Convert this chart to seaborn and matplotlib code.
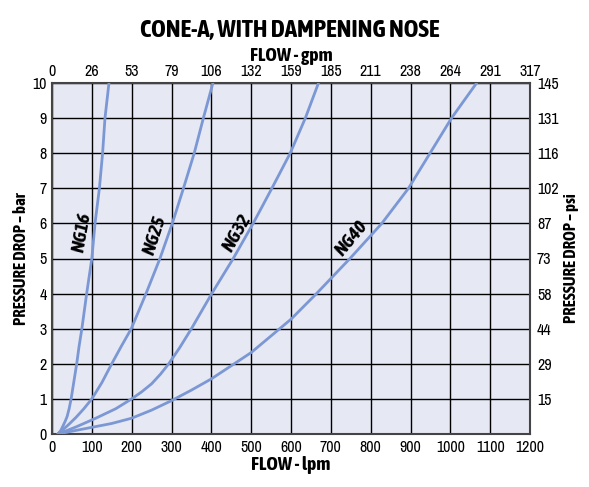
import matplotlib
matplotlib.use("Agg")
import matplotlib.pyplot as plt
from matplotlib import font_manager
import seaborn as sns
import pandas as pd

# ---- data ----
ng16_lpm = [15, 22, 28, 33, 38, 43, 48, 55, 62, 68, 75, 87, 100, 108, 119, 127, 133, 143]
ng16_bar = [0, 0.1, 0.24, 0.36, 0.5, 0.72, 1, 1.5, 2, 2.5, 3, 4, 5, 6, 7, 8, 9, 10]

ng25_lpm = [15, 40, 60, 80, 100, 125, 149, 174, 199, 236, 271, 302, 330, 357, 380, 404]
ng25_bar = [0, 0.25, 0.47, 0.72, 1, 1.46, 1.98, 2.5, 3, 4, 5, 6, 7, 8, 9, 10]

ng32_lpm = [15, 60, 110, 160, 200, 225, 250, 272, 293, 320, 350, 401, 455, 505, 552, 598, 636, 669]
ng32_bar = [0, 0.2, 0.45, 0.72, 1, 1.2, 1.43, 1.7, 2, 2.45, 3, 4, 5, 6, 7, 8, 9, 10]

ng40_lpm = [15, 50, 100, 150, 200, 250, 300, 350, 400, 500, 600, 664, 748, 828, 895, 949, 1003, 1066]
ng40_bar = [0, 0.08, 0.19, 0.3, 0.45, 0.68, 0.95, 1.25, 1.57, 2.32, 3.27, 4, 5, 6, 7, 8, 9, 10]

lpm_ticks = [0, 100, 200, 300, 400, 500, 600, 700, 800, 900, 1000, 1100, 1200]
gpm_labels = ["0", "26", "53", "79", "106", "132", "159", "185", "211", "238", "264", "291", "317"]
bar_ticks = [0, 1, 2, 3, 4, 5, 6, 7, 8, 9, 10]
psi_ticks = [1, 2, 3, 4, 5, 6, 7, 8, 9, 10]
psi_labels = ["15", "29", "44", "58", "73", "87", "102", "116", "131", "145"]

series_names = ["NG16", "NG25", "NG32", "NG40"]
label_pos = {"NG16": (75, 5.75, 80), "NG25": (259, 5.67, 72),
             "NG32": (464, 5.73, 60), "NG40": (753, 5.58, 50)}

frames = []
for name, xs, ys in zip(series_names,
                        [ng16_lpm, ng25_lpm, ng32_lpm, ng40_lpm],
                        [ng16_bar, ng25_bar, ng32_bar, ng40_bar]):
    frames.append(pd.DataFrame({"lpm": xs, "bar": ys, "size": name}))
df = pd.concat(frames, ignore_index=True)

# ---- style ----
sns.set_style("white")


def _w(v):
    if isinstance(v, (int, float)):
        return v
    return {"bold": 700, "heavy": 800, "black": 900, "semibold": 600,
            "demibold": 600, "extra bold": 800, "normal": 400, "regular": 400}.get(str(v).lower(), 400)


reg_cands, bold_cands, boldit_cands = [], [], []
for f in font_manager.fontManager.ttflist:
    nm = f.name
    low = nm.lower()
    if "mono" in low or "serif" in low or "cjk" in low:
        continue
    st = str(f.stretch).lower()
    is_cond = ("narrow" in low or "condensed" in low or st in ("condensed", "semi-condensed"))
    if "extra" in low or "ultra" in low or st in ("extra-condensed", "ultra-condensed"):
        is_cond = False
    if not is_cond:
        continue
    w = _w(f.weight)
    style = str(f.style).lower()
    if style == "normal":
        if 600 <= w <= 800:
            bold_cands.append(f)
        elif 350 <= w < 600:
            reg_cands.append(f)
    elif 600 <= w <= 800:
        boldit_cands.append(f)

bold_cands.sort(key=lambda f: (abs(_w(f.weight) - 700), f.name))
reg_cands.sort(key=lambda f: (abs(_w(f.weight) - 400), f.name))
if bold_cands:
    same = [f for f in boldit_cands if f.name == bold_cands[0].name]
    boldit_cands = same or boldit_cands
boldit_cands.sort(key=lambda f: (abs(_w(f.weight) - 700), f.name))

bold_font = font_manager.FontProperties(fname=bold_cands[0].fname) if bold_cands else None
reg_font = font_manager.FontProperties(fname=reg_cands[0].fname) if reg_cands else None
boldit_font = font_manager.FontProperties(fname=boldit_cands[0].fname) if boldit_cands else None

plt.rcParams["font.family"] = ["DejaVu Sans"]
plt.rcParams["text.color"] = "black"


def _mk(base, size, **fallback):
    if base is not None:
        p = base.copy()
        p.set_size(size)
        return p
    return font_manager.FontProperties(family="DejaVu Sans", size=size * 0.8, **fallback)


def fp_bold(size):
    return _mk(bold_font, size, weight="bold")


def fp_reg(size):
    return _mk(reg_font, size)


def fp_boldit(size):
    if boldit_font is not None:
        return _mk(boldit_font, size)
    if bold_font is not None:
        return _mk(bold_font, size)
    return font_manager.FontProperties(family="DejaVu Sans", size=size * 0.8,
                                       weight="bold", style="italic")


line_color = "#7B98D4"
bg_color = "#E6E8F4"
edge_color = "#444444"

fig = plt.figure(figsize=(5.89, 4.87), dpi=100)
ax = fig.add_axes([52 / 589, 1 - 434 / 487, 478 / 589, 351 / 487])
ax.set_facecolor(bg_color)

sns.lineplot(data=df, x="lpm", y="bar", hue="size",
             palette={n: line_color for n in series_names},
             estimator=None, sort=False, legend=False, linewidth=2.0, ax=ax, zorder=3)

ax.set_xlim(0, 1200)
ax.set_ylim(0, 10)
ax.set_xticks(lpm_ticks)
ax.set_yticks(bar_ticks)
ax.set_xticklabels([str(v) for v in lpm_ticks], fontproperties=fp_reg(11.5))
ax.set_yticklabels([str(v) for v in bar_ticks], fontproperties=fp_reg(11.5))
ax.grid(True, color="black", linewidth=1.0, zorder=1)
ax.set_axisbelow(True)
ax.tick_params(length=0, pad=4, colors="black")
for s in ax.spines.values():
    s.set_color(edge_color)
    s.set_linewidth(1.5)
ax.set_xlabel("FLOW - lpm", fontproperties=fp_bold(14), labelpad=1, color="black")
ax.set_ylabel("PRESSURE DROP – bar", fontproperties=fp_bold(12), labelpad=2, color="black")

for name in series_names:
    x, y, rot = label_pos[name]
    ax.text(x, y, name, rotation=rot, ha="center", va="center",
            fontproperties=fp_boldit(14), color="black", zorder=4)

# top axis (gpm)
axt = ax.twiny()
axt.set_xlim(ax.get_xlim())
axt.set_xticks(lpm_ticks)
axt.set_xticklabels(gpm_labels, fontproperties=fp_reg(11.5))
axt.tick_params(length=0, pad=3, colors="black")
axt.set_xlabel("FLOW - gpm", fontproperties=fp_bold(14), labelpad=2, color="black")
for s in axt.spines.values():
    s.set_visible(False)

# right axis (psi)
axr = ax.twinx()
axr.set_ylim(ax.get_ylim())
axr.set_yticks(psi_ticks)
axr.set_yticklabels(psi_labels, fontproperties=fp_reg(11.5))
axr.tick_params(length=0, pad=5, colors="black")
axr.set_ylabel("PRESSURE DROP – psi", fontproperties=fp_bold(12), labelpad=3, color="black")
for s in axr.spines.values():
    s.set_visible(False)

fig.text(290 / 589, 1 - 30 / 487, "CONE-A, WITH DAMPENING NOSE", ha="center", va="center",
         fontproperties=fp_bold(18), color="black")

fig.savefig("out.png", dpi=100, facecolor="white")
